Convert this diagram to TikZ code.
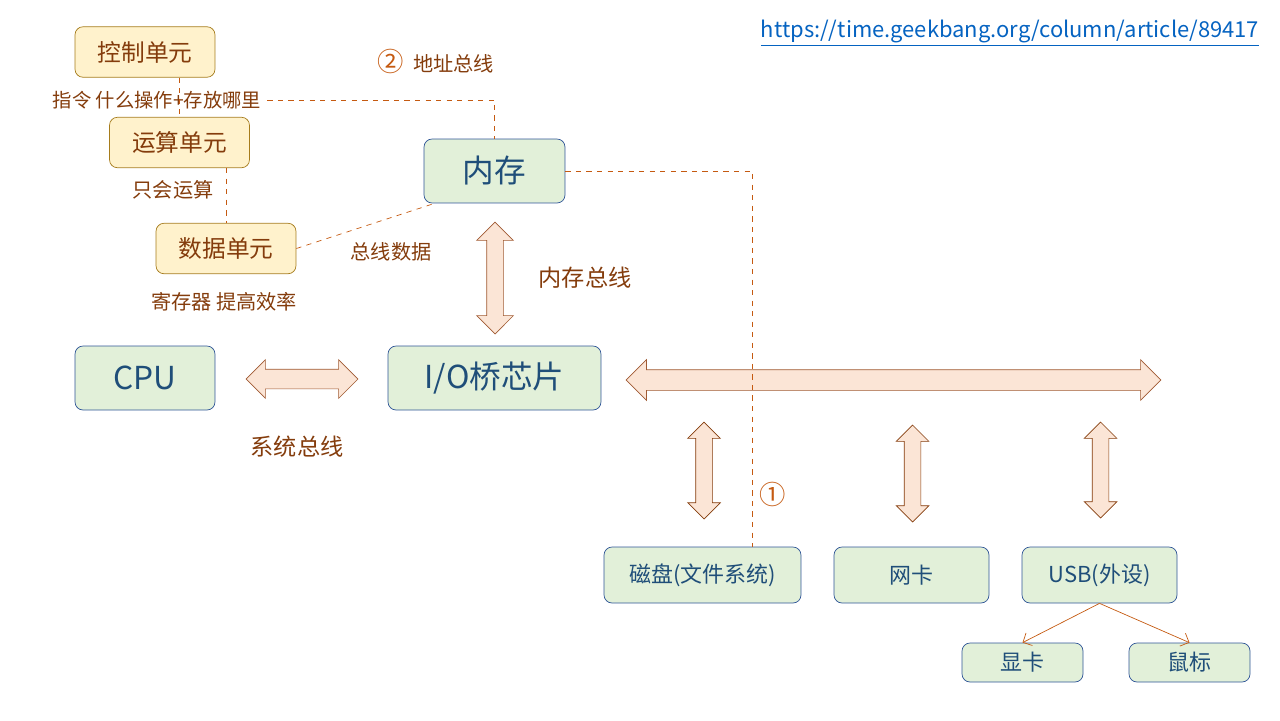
\documentclass[tikz,border=0pt]{standalone}
\usepackage{fontspec}
\setmainfont{Noto Sans CJK SC}
\usetikzlibrary{shapes.arrows,arrows.meta,calc}
\definecolor{yfill}{RGB}{255,242,204}
\definecolor{ydraw}{RGB}{166,124,28}
\definecolor{gfill}{RGB}{226,240,217}
\definecolor{gdraw}{RGB}{47,85,151}
\definecolor{gtext}{RGB}{31,78,121}
\definecolor{btext}{RGB}{132,60,12}
\definecolor{dashc}{RGB}{197,90,17}
\definecolor{afill}{RGB}{251,229,214}
\definecolor{adraw}{RGB}{160,90,50}
\definecolor{linkc}{RGB}{5,99,193}
\tikzset{
  unit/.style={draw=ydraw,fill=yfill,rounded corners=.16cm,text=btext,font=\fontsize{13.5}{16}\selectfont,minimum width=2.8cm,minimum height=1.01cm},
  part/.style={draw=gdraw,fill=gfill,rounded corners=.16cm,text=gtext},
  bigpart/.style={part,font=\fontsize{18}{21}\selectfont,minimum height=1.28cm},
  dev/.style={part,font=\fontsize{12.5}{15}\selectfont,minimum height=1.12cm,minimum width=3.1cm},
  lbl/.style={text=btext,font=\fontsize{11.5}{14}\selectfont},
  dline/.style={draw=dashc,dashed,thin},
  bus/.style={double arrow,draw=adraw,fill=afill,inner xsep=0pt,inner ysep=.1cm,double arrow head extend=.2cm,minimum width=.4cm}
}
\begin{document}
\begin{tikzpicture}[x=0.02cm,y=-0.02cm]
\useasboundingbox (0,0) rectangle (1280,720);
\node[text=linkc,font=\fontsize{12.5}{15}\selectfont] (url) at (1010,33) {\underline{https://time.geekbang.org/column/article/89417}};
% CPU parts
\node[unit] (kz) at (145,52) {控制单元};
\node[unit] (ys) at (179.5,142.5) {运算单元};
\node[unit] (sj) at (226,248.5) {数据单元};
\node[lbl,font=\fontsize{11}{13}\selectfont] (zl) at (157,100) {指令 什么操作+存放哪里};
\node[lbl] (hs) at (173,190) {只会运算};
\node[lbl] (jc) at (224,302) {寄存器 提高效率};
% main blocks
\node[bigpart,minimum width=2.82cm] (nc) at (494.5,171) {内存};
\node[bigpart,minimum width=2.8cm] (cpu) at (145,378) {CPU};
\node[bigpart,minimum width=4.26cm] (io) at (494.5,378) {I/O桥芯片};
\node[dev,minimum width=3.94cm] (cp) at (702.5,575) {磁盘(文件系统)};
\node[dev] (wk) at (911.5,575) {网卡};
\node[dev] (usb) at (1099.5,575) {USB(外设)};
\node[dev,minimum width=2.42cm,minimum height=.78cm] (xk) at (1022.5,662.5) {显卡};
\node[dev,minimum width=2.42cm,minimum height=.78cm] (sb) at (1189.5,662.5) {鼠标};
% buses
\node[bus,minimum height=2.24cm,inner ysep=.16cm,double arrow head extend=.2cm,rotate=90] (ncbus) at (495,278) {};
\node[bus,minimum height=2.24cm,inner ysep=.19cm,double arrow head extend=.19cm] (sysbus) at (302,379) {};
\node[bus,minimum height=10.7cm,inner ysep=.2cm,double arrow head extend=.2cm] (iobus) at (893.5,380) {};
\node[bus,minimum height=1.94cm,inner ysep=.16cm,double arrow head extend=.16cm,rotate=90,draw=btext] (cpbus) at (704,470.5) {};
\node[bus,minimum height=1.94cm,inner ysep=.16cm,double arrow head extend=.16cm,rotate=90,draw=btext] (wkbus) at (912.5,473.5) {};
\node[bus,minimum height=1.92cm,inner ysep=.16cm,double arrow head extend=.16cm,rotate=90,draw=btext] (usbbus) at (1100.5,470) {};
\node[lbl,font=\fontsize{13.2}{16}\selectfont] (ncl) at (585,278) {内存总线};
\node[lbl,font=\fontsize{13.2}{16}\selectfont] (sysl) at (297,447) {系统总线};
\node[lbl] (zs) at (391,252) {总线数据};
\node[lbl] (dz) at (436,61) {{\color{dashc}\fontsize{15}{17}\selectfont ②}\ \ 地址总线};
\node[text=dashc,font=\fontsize{15}{17}\selectfont] (one) at (773,494) {①};
% dashed links
\draw[dline] (ys.north |- kz.south) -- (ys.north);
\draw[dline] (sj.north |- ys.south) -- (sj.north);
\draw[dline] (zl.east) -| (nc.north);
\draw[dline] (sj.east) -- ([xshift=.22cm]nc.south west);
\draw[dline] (nc.east) -| ([xshift=.99cm]cp.north);
\draw[dashc,-{Straight Barb[length=4pt]}] (usb.south) -- (xk.north);
\draw[dashc,-{Straight Barb[length=4pt]}] (usb.south) -- (sb.north);
\end{tikzpicture}
\end{document}
